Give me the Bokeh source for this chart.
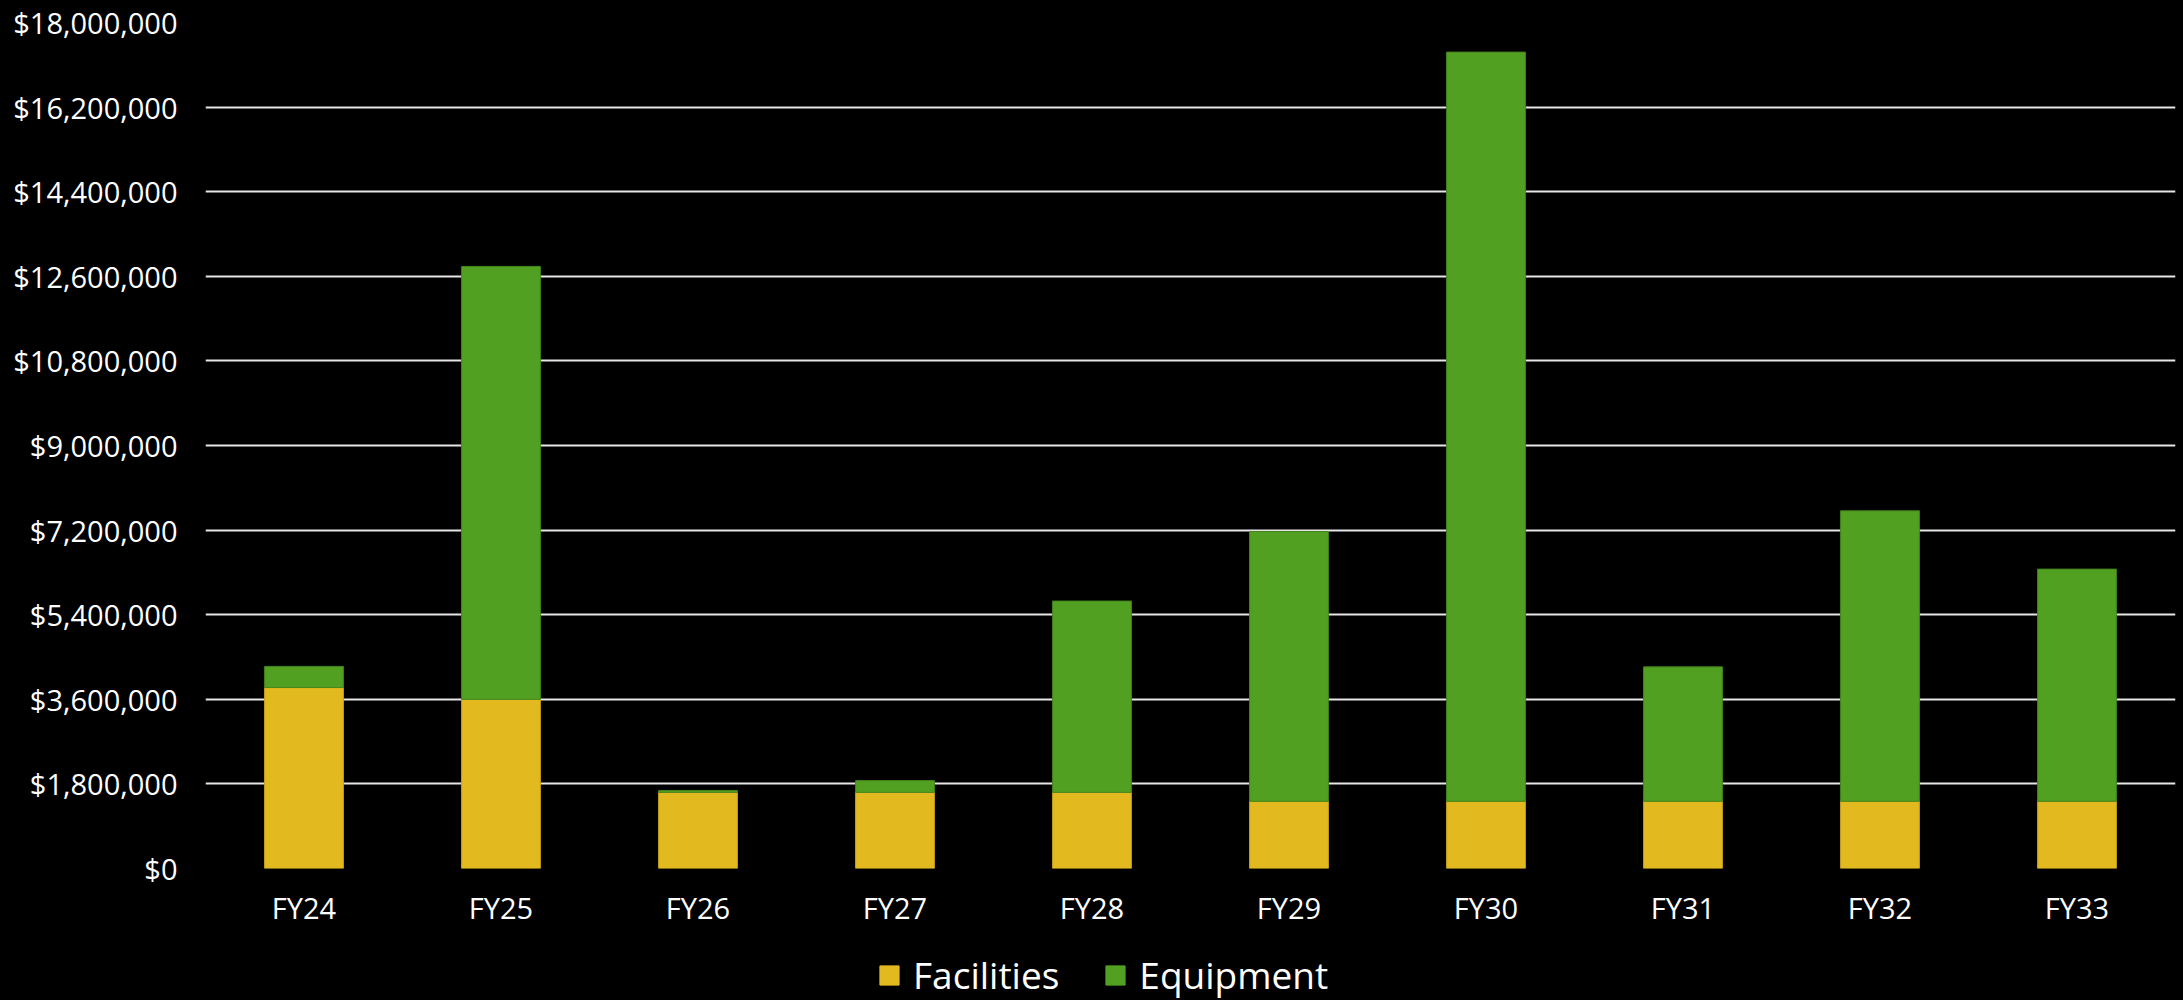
from bokeh.plotting import figure
from bokeh.layouts import column
from bokeh.models import FactorRange, Range1d, FixedTicker, NumeralTickFormatter, Legend, LegendItem
from bokeh.embed import file_html
from bokeh.resources import INLINE

# Capital spending by fiscal year (USD)
years = ["FY24", "FY25", "FY26", "FY27", "FY28", "FY29", "FY30", "FY31", "FY32", "FY33"]
facilities = [3850000, 3600000, 1620000, 1620000, 1620000, 1430000, 1430000, 1430000, 1430000, 1430000]
equipment = [450000, 9210000, 40000, 250000, 4070000, 5740000, 15940000, 2860000, 6180000, 4940000]
y_ticks = [0, 1800000, 3600000, 5400000, 7200000, 9000000, 10800000, 12600000, 14400000, 16200000, 18000000]

series = ["Facilities", "Equipment"]
colors = ["#E3B920", "#52A022"]
edges = ["#C9A21C", "#43851C"]

FONT = "Open Sans"
W = 2183
MAIN_H = 930
KEY_H = 70

p = figure(
    x_range=FactorRange(*years, range_padding=0),
    y_range=Range1d(0, 18000000),
    width=W, height=MAIN_H,
    output_backend="svg", toolbar_location=None,
    min_border_left=205, min_border_right=8,
    min_border_top=22, min_border_bottom=MAIN_H - 868,
)

p.background_fill_color = "black"
p.border_fill_color = "black"
p.outline_line_color = None

data = {"years": years, "Facilities": facilities, "Equipment": equipment}
p.vbar_stack(series, x="years", width=0.4, source=data,
             fill_color=colors, line_color=edges, line_width=1)

# Axes
p.yaxis.ticker = FixedTicker(ticks=y_ticks)
p.yaxis.formatter = NumeralTickFormatter(format="$0,0")
for ax in (p.xaxis[0], p.yaxis[0]):
    ax.axis_line_color = None
    ax.major_tick_line_color = None
    ax.minor_tick_line_color = None
    ax.major_tick_out = 0
    ax.major_tick_in = 0
    ax.major_label_text_font = FONT
    ax.major_label_text_font_size = "29px"
    ax.major_label_text_color = "white"
p.yaxis.major_label_standoff = 28
p.xaxis.major_label_standoff = 19

# Grid
p.xgrid.grid_line_color = None
p.ygrid.ticker = FixedTicker(ticks=y_ticks)
p.ygrid.grid_line_color = "#e6e6e6"
p.ygrid.grid_line_width = 2

# Key strip under the chart (its frame lines up with the chart frame)
key = figure(
    x_range=Range1d(0, 1), y_range=Range1d(0, 1),
    width=W, height=KEY_H,
    output_backend="svg", toolbar_location=None,
    min_border=0,
)
key.background_fill_color = "black"
key.border_fill_color = "black"
key.outline_line_color = None
key.axis.visible = False
key.grid.grid_line_color = None

# swatch proxies kept outside the visible range
swatches = [key.vbar(x=[-1.0], top=[-1.0], bottom=[-2.0], width=0.1, fill_color=c, line_color=c)
            for c in colors]
legend = Legend(
    items=[LegendItem(label=s, renderers=[r]) for s, r in zip(series, swatches)],
    orientation="horizontal",
    location=(672, 0),
    glyph_width=24, glyph_height=24,
    label_standoff=12, spacing=44,
    label_text_font=FONT, label_text_font_size="37px", label_text_color="white",
    background_fill_alpha=0, border_line_color=None,
    padding=0, margin=0,
)
key.add_layout(legend, "center")

layout = column(p, key, spacing=0, styles={"background-color": "black"})

open("out.html", "w").write(file_html(layout, INLINE))
